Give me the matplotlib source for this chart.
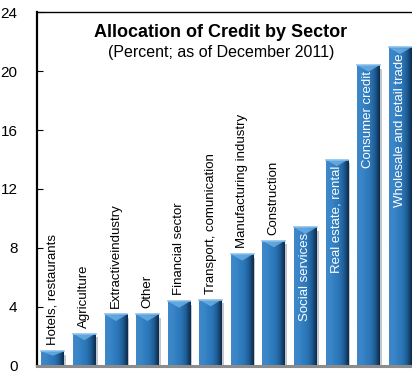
import matplotlib
matplotlib.use("Agg")
import matplotlib.pyplot as plt
from matplotlib.colors import LinearSegmentedColormap
import numpy as np

sectors = ["Hotels, restaurants", "Agriculture", "Extractiveindustry", "Other",
           "Financial sector", "Transport, comunication", "Manufacturing industry",
           "Construction", "Social services", "Real estate, rental",
           "Consumer credit", "Wholesale and retail trade"]
shares = [1.0, 2.2, 3.5, 3.5, 4.4, 4.5, 7.6, 8.5, 9.4, 14.0, 20.4, 21.6]
inside = [False] * 8 + [True] * 4

plt.rcParams['font.family'] = ['Liberation Sans Narrow', 'Liberation Sans', 'DejaVu Sans']

fig = plt.figure(figsize=(4.12, 3.73), dpi=100)
ax = fig.add_axes([0.0898, 0.0188, 0.9102, 0.9490])

x = np.arange(len(shares))
width = 0.72

# soft shadow behind each bar
ax.bar(x + 0.06, shares, width, bottom=-0.25, color="#9aa3ad", alpha=0.6, zorder=1)
bars = ax.bar(x, shares, width, color="#2f7dc0", zorder=2)

# horizontal shading to give the bars a rounded look
shade = LinearSegmentedColormap.from_list(
    "shade", ["#3f88c8", "#3a86c8", "#2f7dc0", "#2a74b4", "#1d5a92", "#0c2a48"])
grad = np.linspace(0, 1, 64).reshape(1, -1)
for b in bars:
    x0, w, h = b.get_x(), b.get_width(), b.get_height()
    im = ax.imshow(grad, cmap=shade, aspect="auto", extent=[x0, x0 + w, 0, h],
                   zorder=3, interpolation="bicubic")
    im.set_clip_path(b)
    # light bevel at the top of the bar
    cap = min(0.45, h * 0.3)
    ax.fill([x0 + 0.05 * w, x0 + 0.95 * w, x0 + 0.5 * w],
            [h - 0.05, h - 0.05, h - cap], color="#6fb1e6", alpha=0.8, zorder=4, lw=0)
    ax.plot([x0, x0 + w], [h, h], color="#8cc3ee", lw=1.2, zorder=5)

for xi, v, name, ins in zip(x, shares, sectors, inside):
    if ins:
        ax.text(xi, v - 0.4, name, rotation=90, ha="center", va="top",
                color="white", fontsize=9.5, zorder=6)
    else:
        ax.text(xi, v + 0.4, name, rotation=90, ha="center", va="bottom",
                color="black", fontsize=9.5, zorder=6)

ax.set_xlim(-0.5, 11.38)
ax.set_ylim(0, 24)
ax.set_yticks([0, 4, 8, 12, 16, 20, 24])
ax.tick_params(axis="y", direction="in", length=4, labelsize=11, pad=14)
ax.set_xticks([])

ax.spines["right"].set_visible(False)
ax.spines["left"].set_linewidth(1.6)
ax.spines["top"].set_linewidth(1.0)
ax.spines["bottom"].set_color("#8c8c8c")
ax.spines["bottom"].set_linewidth(2.2)
ax.spines["bottom"].set_zorder(7)

ax.text(0.49, 0.943, "Allocation of Credit by Sector", transform=ax.transAxes,
        ha="center", va="center", fontsize=13, fontweight="bold")
ax.text(0.49, 0.885, "(Percent; as of December 2011)", transform=ax.transAxes,
        ha="center", va="center", fontsize=11.5)

fig.savefig("out.png", dpi=100)
